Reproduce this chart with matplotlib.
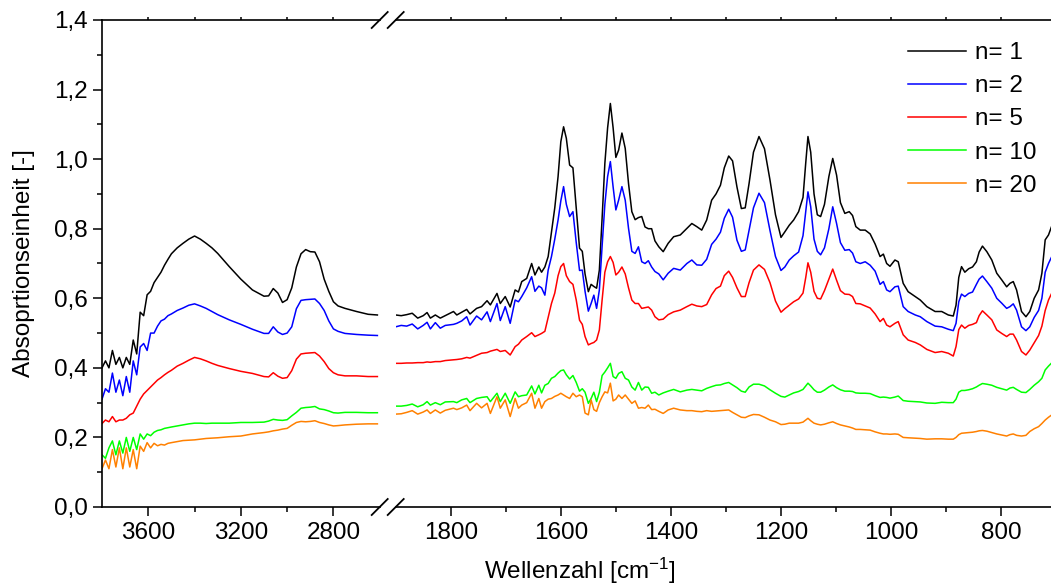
import matplotlib
matplotlib.use("Agg")
import matplotlib.pyplot as plt
from matplotlib.ticker import FixedLocator, FuncFormatter, MultipleLocator
from matplotlib.lines import Line2D

# ---------------- data ----------------
labels = ["n= 1", "n= 2", "n= 5", "n= 10", "n= 20"]
colors = ["#000000", "#0000ff", "#ff0000", "#00ff00", "#ff8000"]

# left segment (O-H / C-H region)
wn_left = [3800, 3785, 3770, 3755, 3740, 3725, 3710, 3695, 3680, 3665,
           3650, 3635, 3620, 3605, 3590, 3575, 3560, 3545, 3530, 3515,
           3500, 3475, 3450, 3425, 3400, 3375, 3350, 3325, 3300, 3250,
           3200, 3150, 3100, 3080, 3060, 3040, 3020, 3000, 2980, 2960,
           2940, 2920, 2900, 2880, 2860, 2840, 2820, 2800, 2780, 2750,
           2700, 2650, 2610]

n1_left = [0.40, 0.42, 0.40, 0.45, 0.41, 0.43, 0.40, 0.43, 0.41, 0.48,
           0.44, 0.56, 0.55, 0.61, 0.62, 0.645, 0.66, 0.675, 0.695, 0.712,
           0.728, 0.745, 0.758, 0.770, 0.779, 0.770, 0.758, 0.745, 0.729, 0.691,
           0.655, 0.624, 0.606, 0.607, 0.628, 0.615, 0.588, 0.596, 0.630, 0.690,
           0.728, 0.740, 0.734, 0.733, 0.705, 0.655, 0.620, 0.590, 0.578, 0.571,
           0.562, 0.554, 0.552]
n2_left = [0.31, 0.34, 0.33, 0.385, 0.33, 0.365, 0.32, 0.375, 0.33, 0.42,
           0.38, 0.46, 0.47, 0.45, 0.50, 0.50, 0.52, 0.535, 0.54, 0.55,
           0.555, 0.565, 0.572, 0.580, 0.584, 0.578, 0.571, 0.562, 0.553, 0.538,
           0.525, 0.511, 0.499, 0.499, 0.518, 0.503, 0.496, 0.500, 0.518, 0.570,
           0.594, 0.596, 0.597, 0.598, 0.585, 0.565, 0.535, 0.512, 0.505, 0.499,
           0.496, 0.494, 0.493]
n5_left = [0.24, 0.25, 0.245, 0.26, 0.245, 0.25, 0.25, 0.255, 0.265, 0.27,
           0.29, 0.31, 0.325, 0.335, 0.345, 0.355, 0.365, 0.372, 0.38, 0.387,
           0.393, 0.405, 0.413, 0.422, 0.430, 0.426, 0.420, 0.413, 0.407, 0.398,
           0.390, 0.384, 0.375, 0.374, 0.386, 0.376, 0.370, 0.372, 0.392, 0.425,
           0.440, 0.442, 0.443, 0.444, 0.434, 0.418, 0.398, 0.386, 0.380, 0.377,
           0.377, 0.375, 0.375]
n10_left = [0.15, 0.14, 0.17, 0.19, 0.15, 0.19, 0.155, 0.20, 0.16, 0.20,
            0.165, 0.21, 0.195, 0.21, 0.205, 0.215, 0.22, 0.222, 0.226, 0.228,
            0.23, 0.233, 0.236, 0.239, 0.241, 0.241, 0.240, 0.241, 0.241, 0.241,
            0.243, 0.243, 0.244, 0.247, 0.252, 0.250, 0.249, 0.251, 0.262, 0.272,
            0.284, 0.286, 0.287, 0.289, 0.282, 0.280, 0.276, 0.271, 0.270, 0.272,
            0.272, 0.271, 0.271]
n20_left = [0.11, 0.135, 0.11, 0.165, 0.115, 0.17, 0.11, 0.17, 0.115, 0.165,
            0.11, 0.175, 0.16, 0.185, 0.17, 0.183, 0.176, 0.18, 0.178, 0.183,
            0.185, 0.188, 0.191, 0.192, 0.193, 0.195, 0.197, 0.198, 0.199, 0.202,
            0.204, 0.210, 0.214, 0.216, 0.219, 0.221, 0.224, 0.226, 0.235, 0.243,
            0.246, 0.245, 0.246, 0.248, 0.243, 0.240, 0.236, 0.233, 0.234, 0.236,
            0.238, 0.239, 0.239]

# right segment (fingerprint region)
wn_right = [1900, 1890, 1880, 1870, 1860, 1850, 1843, 1837, 1828, 1819,
            1810, 1795, 1789, 1780, 1771, 1765, 1753, 1744, 1734, 1728,
            1716, 1710, 1701, 1692, 1683, 1677, 1671, 1662, 1653, 1647,
            1640, 1635, 1629, 1623, 1617, 1611, 1605, 1600, 1595, 1590,
            1584, 1578, 1572, 1566, 1561, 1556, 1550, 1545, 1540, 1535,
            1530, 1525, 1520, 1515, 1510, 1505, 1500, 1495, 1489, 1483,
            1477, 1471, 1465, 1459, 1453, 1447, 1441, 1435, 1429, 1422,
            1414, 1405, 1395, 1383, 1371, 1362, 1353, 1344, 1335, 1326,
            1318, 1310, 1303, 1295, 1288, 1280, 1272, 1265, 1258, 1250,
            1240, 1230, 1220, 1210, 1200, 1193, 1185, 1177, 1168, 1160,
            1155, 1151, 1146, 1140, 1134, 1128, 1121, 1113, 1106, 1099,
            1092, 1084, 1076, 1070, 1064, 1056, 1047, 1038, 1029, 1020,
            1014, 1008, 1002, 993, 987, 978, 969, 956, 947, 935,
            920, 908, 896, 887, 882, 877, 872, 866, 859, 852,
            845, 840, 834, 826, 817, 808, 799, 790, 784, 778,
            772, 763, 755, 748, 740, 732, 726, 720, 714, 708,
            700]

n1_right = [0.552, 0.550, 0.553, 0.557, 0.543, 0.550, 0.559, 0.543, 0.552, 0.543,
            0.550, 0.562, 0.552, 0.560, 0.568, 0.555, 0.571, 0.576, 0.593, 0.581,
            0.614, 0.585, 0.605, 0.575, 0.624, 0.618, 0.648, 0.657, 0.700, 0.667,
            0.690, 0.675, 0.690, 0.720, 0.790, 0.860, 0.950, 1.050, 1.093, 1.060,
            0.983, 0.975, 0.860, 0.744, 0.735, 0.670, 0.619, 0.640, 0.634, 0.629,
            0.681, 0.830, 0.988, 1.090, 1.160, 1.090, 1.005, 1.026, 1.075, 1.031,
            0.930, 0.849, 0.826, 0.832, 0.835, 0.805, 0.800, 0.800, 0.765, 0.748,
            0.734, 0.758, 0.777, 0.782, 0.801, 0.815, 0.806, 0.796, 0.825, 0.882,
            0.900, 0.925, 0.975, 1.009, 0.995, 0.920, 0.858, 0.860, 0.930, 1.020,
            1.065, 1.030, 0.940, 0.840, 0.775, 0.791, 0.810, 0.825, 0.849, 0.890,
            0.990, 1.065, 1.020, 0.900, 0.840, 0.835, 0.870, 0.950, 1.002, 0.954,
            0.875, 0.844, 0.849, 0.838, 0.806, 0.796, 0.796, 0.785, 0.756, 0.720,
            0.727, 0.700, 0.692, 0.710, 0.705, 0.643, 0.619, 0.605, 0.595, 0.576,
            0.562, 0.562, 0.552, 0.549, 0.580, 0.660, 0.691, 0.675, 0.685, 0.690,
            0.705, 0.733, 0.750, 0.734, 0.710, 0.672, 0.653, 0.633, 0.643, 0.648,
            0.624, 0.562, 0.547, 0.562, 0.600, 0.624, 0.672, 0.768, 0.782, 0.808,
            0.820]
n2_right = [0.518, 0.522, 0.520, 0.526, 0.512, 0.522, 0.531, 0.512, 0.530, 0.514,
            0.522, 0.525, 0.528, 0.535, 0.547, 0.523, 0.549, 0.538, 0.561, 0.533,
            0.585, 0.536, 0.576, 0.528, 0.595, 0.590, 0.605, 0.630, 0.662, 0.620,
            0.635, 0.630, 0.609, 0.681, 0.720, 0.770, 0.825, 0.880, 0.921, 0.870,
            0.835, 0.849, 0.760, 0.680, 0.681, 0.620, 0.563, 0.585, 0.609, 0.571,
            0.624, 0.750, 0.870, 0.950, 0.993, 0.920, 0.854, 0.882, 0.921, 0.882,
            0.801, 0.735, 0.729, 0.748, 0.705, 0.700, 0.708, 0.690, 0.677, 0.670,
            0.653, 0.672, 0.686, 0.681, 0.700, 0.710, 0.696, 0.695, 0.712, 0.755,
            0.770, 0.790, 0.830, 0.856, 0.833, 0.767, 0.735, 0.739, 0.796, 0.860,
            0.902, 0.875, 0.795, 0.720, 0.680, 0.690, 0.710, 0.722, 0.733, 0.780,
            0.850, 0.906, 0.863, 0.770, 0.735, 0.725, 0.745, 0.800, 0.863, 0.815,
            0.760, 0.738, 0.740, 0.730, 0.705, 0.700, 0.705, 0.695, 0.678, 0.640,
            0.648, 0.624, 0.619, 0.633, 0.635, 0.576, 0.562, 0.552, 0.547, 0.533,
            0.520, 0.518, 0.511, 0.507, 0.528, 0.590, 0.612, 0.605, 0.614, 0.618,
            0.640, 0.655, 0.664, 0.648, 0.629, 0.600, 0.586, 0.571, 0.576, 0.584,
            0.566, 0.518, 0.507, 0.518, 0.545, 0.565, 0.600, 0.675, 0.700, 0.720,
            0.730]
n5_right = [0.413, 0.413, 0.414, 0.414, 0.415, 0.415, 0.417, 0.416, 0.418, 0.418,
            0.421, 0.423, 0.424, 0.426, 0.430, 0.428, 0.436, 0.442, 0.444, 0.448,
            0.453, 0.447, 0.450, 0.437, 0.461, 0.468, 0.480, 0.490, 0.501, 0.490,
            0.495, 0.499, 0.505, 0.545, 0.585, 0.615, 0.665, 0.691, 0.700, 0.665,
            0.648, 0.640, 0.595, 0.537, 0.525, 0.490, 0.466, 0.470, 0.473, 0.480,
            0.509, 0.595, 0.675, 0.705, 0.720, 0.703, 0.667, 0.675, 0.690, 0.670,
            0.630, 0.595, 0.585, 0.585, 0.571, 0.573, 0.575, 0.566, 0.547, 0.538,
            0.540, 0.553, 0.561, 0.566, 0.576, 0.583, 0.578, 0.576, 0.582, 0.610,
            0.628, 0.635, 0.665, 0.678, 0.660, 0.630, 0.605, 0.605, 0.645, 0.681,
            0.696, 0.683, 0.645, 0.592, 0.560, 0.570, 0.580, 0.590, 0.598, 0.615,
            0.660, 0.702, 0.675, 0.620, 0.600, 0.598, 0.622, 0.655, 0.684, 0.652,
            0.622, 0.612, 0.611, 0.605, 0.585, 0.584, 0.578, 0.572, 0.555, 0.533,
            0.542, 0.523, 0.518, 0.528, 0.533, 0.495, 0.480, 0.473, 0.466, 0.453,
            0.444, 0.447, 0.442, 0.434, 0.461, 0.510, 0.523, 0.514, 0.522, 0.525,
            0.530, 0.550, 0.564, 0.552, 0.538, 0.509, 0.499, 0.490, 0.497, 0.497,
            0.480, 0.447, 0.437, 0.451, 0.472, 0.493, 0.520, 0.565, 0.595, 0.615,
            0.625]
n10_right = [0.290, 0.290, 0.292, 0.296, 0.288, 0.294, 0.303, 0.293, 0.300, 0.294,
             0.302, 0.303, 0.300, 0.308, 0.312, 0.300, 0.312, 0.315, 0.317, 0.303,
             0.327, 0.303, 0.327, 0.298, 0.331, 0.317, 0.320, 0.322, 0.348, 0.325,
             0.350, 0.328, 0.350, 0.355, 0.370, 0.375, 0.385, 0.392, 0.394, 0.380,
             0.368, 0.378, 0.358, 0.333, 0.340, 0.330, 0.298, 0.312, 0.330, 0.303,
             0.330, 0.378, 0.388, 0.400, 0.413, 0.375, 0.370, 0.384, 0.389, 0.370,
             0.365, 0.345, 0.336, 0.358, 0.336, 0.345, 0.344, 0.327, 0.330, 0.322,
             0.328, 0.333, 0.338, 0.331, 0.336, 0.338, 0.336, 0.334, 0.341, 0.346,
             0.350, 0.351, 0.355, 0.358, 0.351, 0.343, 0.333, 0.330, 0.345, 0.353,
             0.353, 0.348, 0.337, 0.327, 0.318, 0.316, 0.322, 0.328, 0.332, 0.338,
             0.348, 0.356, 0.348, 0.337, 0.330, 0.330, 0.336, 0.345, 0.351, 0.343,
             0.337, 0.333, 0.333, 0.332, 0.328, 0.327, 0.327, 0.326, 0.320, 0.315,
             0.316, 0.315, 0.313, 0.316, 0.319, 0.306, 0.304, 0.303, 0.302, 0.299,
             0.298, 0.301, 0.300, 0.300, 0.310, 0.330, 0.335, 0.335, 0.337, 0.340,
             0.345, 0.350, 0.355, 0.353, 0.350, 0.344, 0.340, 0.336, 0.342, 0.344,
             0.338, 0.330, 0.329, 0.338, 0.350, 0.360, 0.370, 0.394, 0.405, 0.415,
             0.420]
n20_right = [0.267, 0.268, 0.272, 0.277, 0.267, 0.273, 0.279, 0.269, 0.279, 0.270,
             0.278, 0.284, 0.280, 0.285, 0.293, 0.277, 0.298, 0.285, 0.298, 0.269,
             0.317, 0.284, 0.308, 0.260, 0.312, 0.284, 0.293, 0.300, 0.327, 0.284,
             0.312, 0.284, 0.303, 0.310, 0.312, 0.318, 0.322, 0.327, 0.322, 0.317,
             0.312, 0.327, 0.317, 0.322, 0.317, 0.270, 0.265, 0.308, 0.280, 0.275,
             0.300, 0.317, 0.331, 0.328, 0.356, 0.305, 0.310, 0.322, 0.312, 0.322,
             0.310, 0.298, 0.305, 0.284, 0.286, 0.284, 0.293, 0.280, 0.281, 0.275,
             0.269, 0.279, 0.284, 0.279, 0.277, 0.277, 0.275, 0.274, 0.277, 0.275,
             0.276, 0.277, 0.278, 0.279, 0.272, 0.265, 0.258, 0.257, 0.262, 0.266,
             0.265, 0.258, 0.250, 0.245, 0.237, 0.238, 0.241, 0.241, 0.241, 0.244,
             0.250, 0.255, 0.248, 0.241, 0.238, 0.236, 0.238, 0.242, 0.245, 0.240,
             0.236, 0.233, 0.230, 0.227, 0.223, 0.223, 0.222, 0.221, 0.216, 0.212,
             0.210, 0.210, 0.209, 0.210, 0.209, 0.200, 0.199, 0.198, 0.197, 0.195,
             0.196, 0.196, 0.195, 0.195, 0.200, 0.208, 0.212, 0.213, 0.214, 0.215,
             0.217, 0.219, 0.220, 0.218, 0.214, 0.210, 0.207, 0.204, 0.208, 0.210,
             0.206, 0.204, 0.206, 0.217, 0.225, 0.231, 0.240, 0.250, 0.258, 0.265,
             0.270]

left_series = [n1_left, n2_left, n5_left, n10_left, n20_left]
right_series = [n1_right, n2_right, n5_right, n10_right, n20_right]

# ---------------- figure ----------------
plt.rcParams['font.family'] = ['Liberation Sans', 'DejaVu Sans']
plt.rcParams['mathtext.fontset'] = 'custom'
plt.rcParams['mathtext.rm'] = 'Liberation Sans'
plt.rcParams['mathtext.it'] = 'Liberation Sans:italic'

W, H = 1051, 587
FS = 17.5
fig = plt.figure(figsize=(W / 100, H / 100), dpi=100)

def fx(px):
    return px / W

def fy(py):
    return 1 - py / H

top_px, bot_px = 20, 507
axL = fig.add_axes([fx(102), fy(bot_px), (379.7 - 102) / W, (bot_px - top_px) / H])
axR = fig.add_axes([fx(395.7), fy(bot_px), (1056.2 - 395.7) / W, (bot_px - top_px) / H])

for ys, c, lab in zip(left_series, colors, labels):
    axL.plot(wn_left, ys, color=c, lw=1.1)
for ys, c, lab in zip(right_series, colors, labels):
    axR.plot(wn_right, ys, color=c, lw=1.1, label=lab)

axL.set_xlim(3800, 2600)
axR.set_xlim(1900, 700)
for ax in (axL, axR):
    ax.set_ylim(0, 1.4)
    ax.spines['right'].set_visible(False)
    for s in ax.spines.values():
        s.set_linewidth(1.2)
    ax.tick_params(axis='x', which='major', direction='out', length=6.5, width=1.1,
                   labelsize=FS, pad=4, top=True)
    ax.tick_params(axis='x', which='minor', direction='out', length=3.5, width=1.1, top=True)

axR.spines['left'].set_visible(False)
axR.tick_params(axis='y', which='both', left=False, labelleft=False)

axL.xaxis.set_major_locator(FixedLocator([3600, 3200, 2800]))
axL.xaxis.set_minor_locator(FixedLocator([3400, 3000]))
axR.xaxis.set_major_locator(FixedLocator([1800, 1600, 1400, 1200, 1000, 800]))
axR.xaxis.set_minor_locator(FixedLocator([1700, 1500, 1300, 1100, 900]))

axL.yaxis.set_major_locator(MultipleLocator(0.2))
axL.yaxis.set_minor_locator(MultipleLocator(0.1))
axL.yaxis.set_major_formatter(FuncFormatter(lambda v, p: f"{v:.1f}".replace('.', ',')))
axL.tick_params(axis='y', which='major', direction='out', length=6.5, width=1.1,
                labelsize=FS, pad=4)
axL.tick_params(axis='y', which='minor', direction='out', length=3.5, width=1.1)

# top-axis ticks drawn small
for ax in (axL, axR):
    ax.tick_params(axis='x', which='both', top=True, labeltop=False)
    for t in ax.xaxis.get_major_ticks() + ax.xaxis.get_minor_ticks():
        t.tick2line.set_markersize(2)

# break marks
for cx in (379.7, 395.7):
    for cy in (top_px, bot_px):
        fig.add_artist(Line2D([fx(cx - 8), fx(cx + 8)], [fy(cy + 8), fy(cy - 8)],
                              color='black', lw=1.3))

fig.text(fx(580), fy(571), "Wellenzahl [cm$^{-1}$]", ha='center', va='center', fontsize=FS)
fig.text(fx(24), fy(263), "Absoprtionseinheit [-]", ha='center', va='center',
         rotation=90, fontsize=FS)

handles, labs = axR.get_legend_handles_labels()
fig.legend(handles, labs, loc='upper left', bbox_to_anchor=(fx(908), fy(42)),
           frameon=False, fontsize=FS, handlelength=2.4, handletextpad=0.35,
           labelspacing=0.46, borderpad=0, borderaxespad=0)

fig.savefig("out.png", dpi=100)
